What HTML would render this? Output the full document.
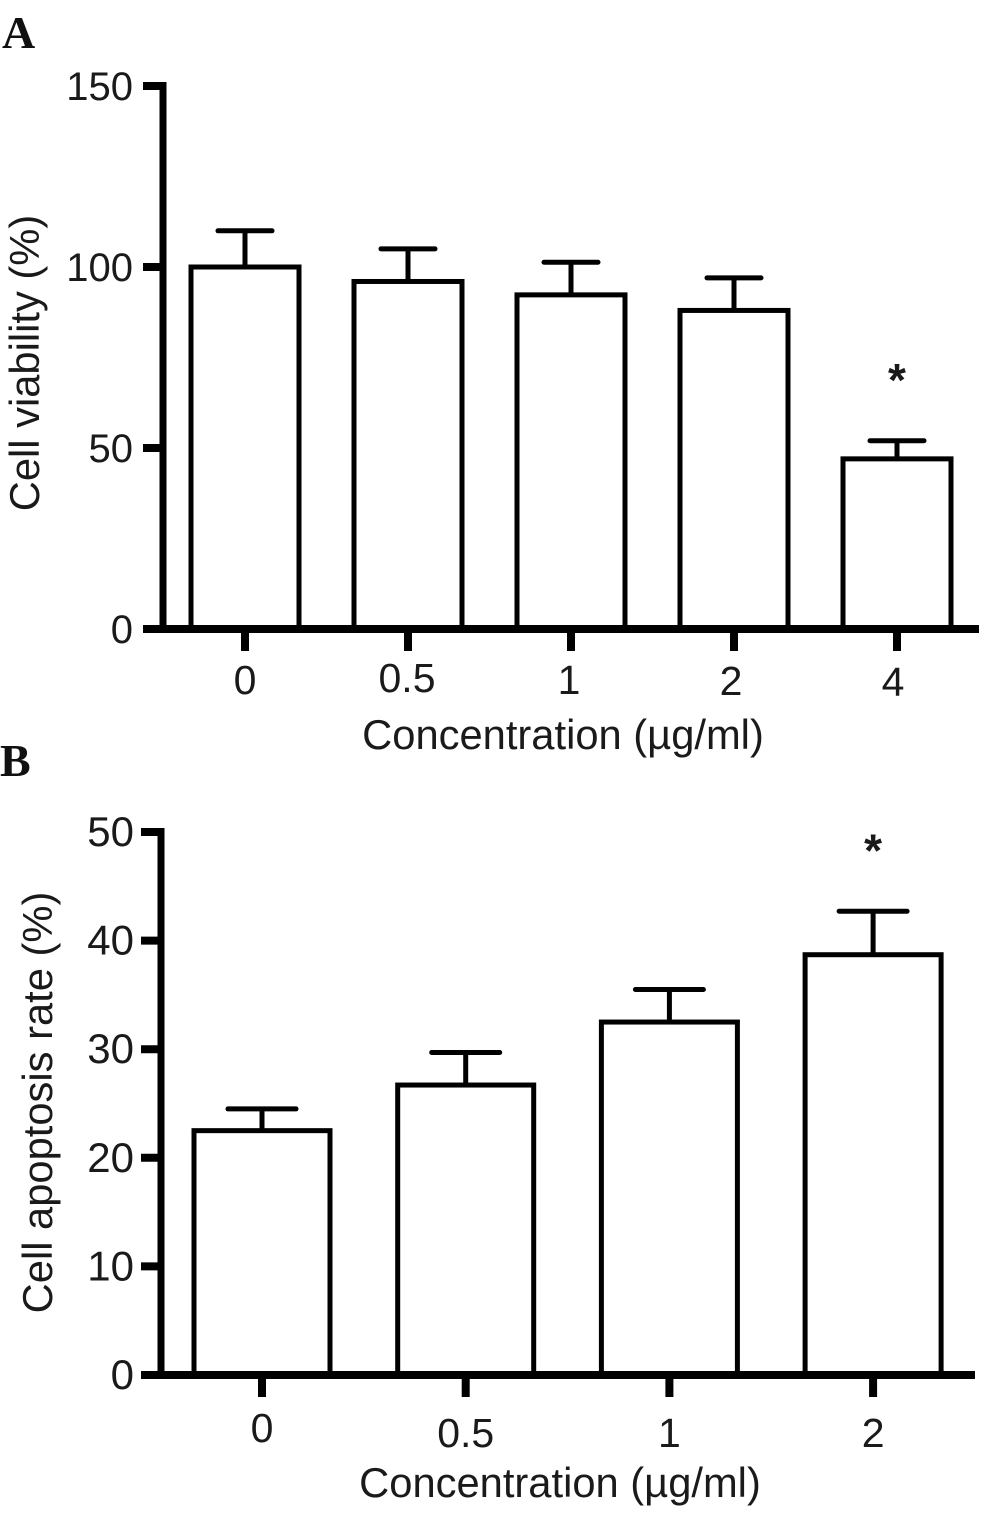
<!DOCTYPE html>
<html lang="en">
<head>
<meta charset="utf-8">
<title>Cell viability and apoptosis bar charts</title>
<style>
html,body{margin:0;padding:0;background:#fff;}
svg{display:block;}
text{font-family:"Liberation Sans",Arial,sans-serif;fill:#1a1a1a;}
.panel{font-family:"Liberation Serif",serif;font-weight:bold;font-size:46px;fill:#111;}
</style>
</head>
<body>
<svg id="figure" width="992" height="1518" viewBox="0 0 992 1518" xmlns="http://www.w3.org/2000/svg">
<text class="panel" x="2" y="48">A</text>
<text class="panel" x="0" y="776">B</text>
<g id="chartA"></g>
<g id="chartB"></g>
</svg>
<script>
const categoriesA = ['0', '0.5', '1', '2', '4'];
const valuesA = [100, 96, 92.3, 88, 47];
const errorTopsA = [110, 105, 101.3, 97, 52];
const yTicksA = [0, 50, 100, 150];
const starsA = ['', '', '', '', '*'];

const categoriesB = ['0', '0.5', '1', '2'];
const valuesB = [22.5, 26.7, 32.5, 38.7];
const errorTopsB = [24.5, 29.7, 35.5, 42.7];
const yTicksB = [0, 10, 20, 30, 40, 50];
const starsB = ['', '', '', '*'];

const NS = 'http://www.w3.org/2000/svg';

function make(parent, tag, attrs, txt) {
  const el = document.createElementNS(NS, tag);
  for (const k in attrs) el.setAttribute(k, attrs[k]);
  if (txt !== undefined) el.textContent = txt;
  parent.appendChild(el);
  return el;
}

function drawChart(root, cfg, categories, values, errorTops, yTicks, stars) {
  const y = v => cfg.y0 - (v - yTicks[0]) / (yTicks[yTicks.length - 1] - yTicks[0]) * (cfg.y0 - cfg.yTop);
  const x = i => cfg.x0 + i * cfg.step;

  categories.forEach((c, i) => {
    const cx = x(i);
    const capLine = make(root, 'line', {x1: cx - cfg.cap, x2: cx + cfg.cap, y1: y(errorTops[i]), y2: y(errorTops[i]), stroke: '#000', 'stroke-width': 5, 'stroke-linecap': 'round'});
    
    
    const stem = make(root, 'line', {x1: cx, x2: cx, y1: y(errorTops[i]), y2: y(values[i]), stroke: '#000', 'stroke-width': 5});
    
    
    const bar = make(root, 'rect', {x: cx - cfg.barW / 2, y: y(values[i]), width: cfg.barW, height: cfg.y0 - y(values[i]), fill: '#fff', stroke: '#000', 'stroke-width': 5});
    
    
    const tick = make(root, 'line', {x1: cx, x2: cx, y1: cfg.y0, y2: cfg.y0 + 22, stroke: '#000', 'stroke-width': 8});
    
    
    const label = make(root, 'text', {x: cx + cfg.labelShift * i, y: cfg.xLabelY + (cfg.labelNudge[c] || 0), 'text-anchor': 'middle', 'font-size': cfg.xFont}, c);
    
    
    if (stars[i]) {
      const star = make(root, 'text', {x: cx, y: y(errorTops[i]) - cfg.starGap, 'text-anchor': 'middle', 'font-size': 46, 'font-weight': 'bold'}, stars[i]);
      
      
    }
  });

  yTicks.forEach(t => {
    const tick = make(root, 'line', {x1: cfg.axisX - 20, x2: cfg.axisX, y1: y(t), y2: y(t), stroke: '#000', 'stroke-width': 8});
    
    
    const label = make(root, 'text', {x: cfg.axisX - cfg.yLabelGap, y: y(t) + 14, 'text-anchor': 'end', 'font-size': cfg.yFont}, String(t));
    
    
  });

  const yAxis = make(root, 'line', {x1: cfg.axisX, x2: cfg.axisX, y1: cfg.yTop - 4, y2: cfg.y0 + 4, stroke: '#000', 'stroke-width': 7});
  
  
  const xAxis = make(root, 'line', {x1: cfg.axisX - 20, x2: cfg.xEnd, y1: cfg.y0, y2: cfg.y0, stroke: '#000', 'stroke-width': 8});
  
  

  const xTitle = make(root, 'text', {x: cfg.xTitleX, y: cfg.xTitleY, 'text-anchor': 'middle', 'font-size': cfg.titleFont}, 'Concentration (µg/ml)');
  
  
  const yTitle = make(root, 'text', {transform: 'translate(' + cfg.yTitleX + ',' + cfg.yTitleY + ') rotate(-90)', 'text-anchor': 'middle', 'font-size': cfg.titleFont}, cfg.yTitle);
  
  
}

drawChart(document.getElementById('chartA'), {
  y0: 629, yTop: 86, x0: 245, step: 163, barW: 108, cap: 27, axisX: 163, xEnd: 979,
  xFont: 41, yFont: 40, titleFont: 41.7, xLabelY: 694, xTitleX: 563, xTitleY: 749,
  labelShift: -1, labelNudge: {'0.5': -2, '2': 1, '4': 2}, yLabelGap: 30,
  yTitleX: 39, yTitleY: 363, yTitle: 'Cell viability (%)', starGap: 45
}, categoriesA, valuesA, errorTopsA, yTicksA, starsA);

drawChart(document.getElementById('chartB'), {
  y0: 1375, yTop: 832, x0: 262, step: 203.7, barW: 136, cap: 34, axisX: 161, xEnd: 975,
  xFont: 41, yFont: 42, titleFont: 41.7, xLabelY: 1447, xTitleX: 560, xTitleY: 1497,
  labelShift: 0, labelNudge: {'0': -5}, yLabelGap: 27,
  yTitleX: 52, yTitleY: 1102.5, yTitle: 'Cell apoptosis rate (%)', starGap: 45
}, categoriesB, valuesB, errorTopsB, yTicksB, starsB);
</script>
</body>
</html>
